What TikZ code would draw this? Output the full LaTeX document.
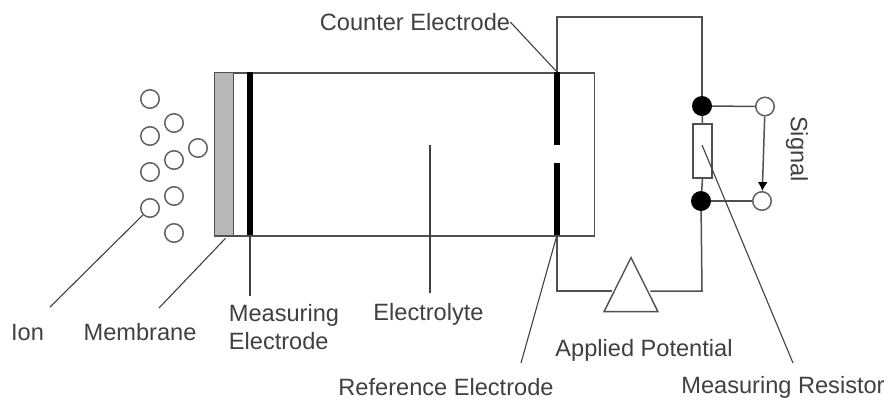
\documentclass[tikz,border=0pt]{standalone}
\usepackage{fontspec}
\setmainfont{Liberation Sans}
\usetikzlibrary{arrows.meta,shapes.geometric}
\definecolor{ln}{HTML}{505050}
\tikzset{
  wire/.style={draw=ln,line width=1.5pt},
  leader/.style={draw=ln!80!black,line width=1.1pt},
  ion/.style={circle,draw=ln!90,line width=1.5pt,fill=white,minimum size=18.5pt,inner sep=0pt},
  blackdot/.style={circle,fill=black,minimum size=20pt,inner sep=0pt},
  term/.style={circle,draw=ln!90,line width=1.5pt,fill=white,minimum size=18.5pt,inner sep=0pt},
  electrode/.style={fill=black,draw=none,inner sep=0pt,minimum width=6pt},
  lab/.style={font=\fontsize{23.6}{28}\selectfont,text=black!75,inner sep=0pt,anchor=center},
}
\begin{document}
\begin{tikzpicture}[x=1pt,y=-1pt]
\useasboundingbox (0,0) rectangle (887,400);
% cell
\node[draw=ln,line width=1.5pt,minimum width=380pt,minimum height=163pt,inner sep=0pt,anchor=north west] (cell) at (213.5,72) {};
\node[draw=ln,line width=1.2pt,fill=black!28,minimum width=19pt,minimum height=163pt,inner sep=0pt,anchor=north west] (mem) at (213.5,72) {};
\node[electrode,minimum height=163pt,anchor=north] (me) at (250,72) {};
\node[electrode,minimum height=73pt,anchor=north] (ce) at (557,72) {};
\node[electrode,minimum height=72pt,anchor=south] (re) at (557,235) {};
% circuit
\coordinate (tl) at (557,17);
\coordinate (tr) at (702,17);
\coordinate (bl) at (557,291);
\coordinate (br) at (702,291);
\node[blackdot] (d1) at (702,106) {};
\node[blackdot] (d2) at (701,201) {};
\node[draw=ln,line width=1.3pt,fill=white,minimum width=19pt,minimum height=54pt,inner sep=0pt] (res) at (702.5,151) {};
\node[term] (t1) at (765,106.5) {};
\node[term] (t2) at (762,201) {};
\node[isosceles triangle,isosceles triangle apex angle=53,shape border rotate=90,draw=ln,line width=1.4pt,fill=white,minimum height=54pt,inner sep=0pt,anchor=apex] (amp) at (631,256) {};
\draw[wire] (ce.north) -- (tl) -- (tr) -- (d1);
\draw[wire] (d1) -- (res.north);
\draw[wire] (res.south) -- (d2);
\draw[wire] (d2) -- (br) -- (amp.east |- br);
\draw[wire] (re.south) -- (bl) -- (amp.west |- bl);
\draw[wire] (d1) -- (t1);
\draw[wire] (d2) -- (t2);
\draw[wire,-{Latex[length=9pt,width=10pt,black]}] (t1) -- (t2);
% ions
\foreach \n/\x/\y in {a/150/99,b/174/123,c/150/136,d/198/148,e/174/160,f/150/172,g/174/196,h/150/208,i/174/233}
  \node[ion] (ion\n) at (\x,\y) {};
% labels
\node[lab] (lcounter) at (415,22) {Counter Electrode};
\node[lab] (lion) at (27.5,332) {Ion};
\node[lab] (lmem) at (140,332) {Membrane};
\node[lab,align=left] (lme) at (284,327) {Measuring\\Electrode};
\node[lab] (lely) at (428.5,314) {Electrolyte};
\node[lab] (lapp) at (644,350) {Applied Potential};
\node[lab] (lref) at (446,387) {Reference Electrode};
\node[lab] (lres) at (783,387) {Measuring Resistor};
\node[lab,rotate=-90] (lsig) at (797,149) {Signal};
% leaders
\coordinate (me0) at (250,235);
\coordinate (ely0) at (430,145);
\coordinate (res0) at (702,145);
\coordinate (lionend) at (50,307);
\coordinate (lmemend) at (159,308);
\coordinate (lmeend) at (250,296);
\coordinate (lelyend) at (430,293);
\coordinate (lrefend) at (521,363);
\coordinate (lresend) at (793,363);
\draw[leader] (lcounter.east) -- (ce.north);
\draw[leader] (ionh) -- (lionend);
\draw[leader] (mem.south) ++(2,2) -- (lmemend);
\draw[leader] (me0) -- (lmeend);
\draw[leader] (ely0) -- (lelyend);
\draw[leader] (re.south) -- (lrefend);
\draw[leader] (res0) -- (lresend);
\end{tikzpicture}
\end{document}
